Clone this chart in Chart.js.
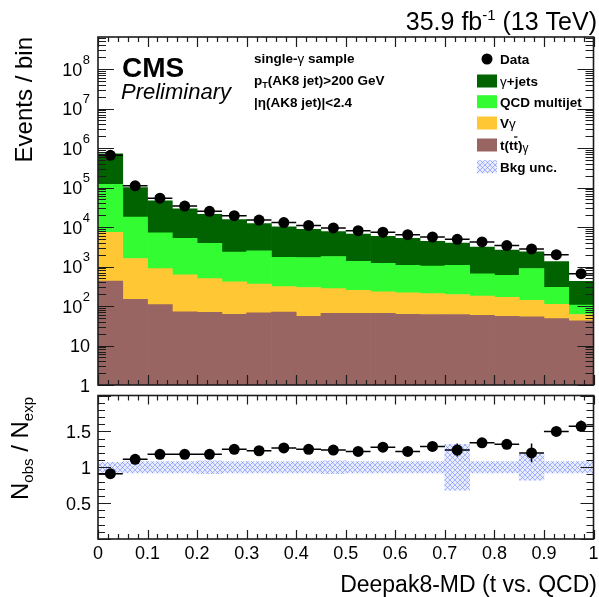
<!DOCTYPE html>
<html>
<head>
<meta charset="utf-8">
<title>Deepak8-MD (t vs. QCD)</title>
<script src="https://cdn.jsdelivr.net/npm/chart.js@4.4.1/dist/chart.umd.min.js"></script>
<style>
  html, body { margin: 0; padding: 0; background: #ffffff; }
  #wrap { position: relative; width: 599px; height: 597px; overflow: hidden; }
  canvas { position: absolute; left: 0; }
  #mainPad { top: 0; }
  #ratioPad { top: 390px; }
</style>
</head>
<body>
<div id="wrap">
  <canvas id="mainPad" width="599" height="400"></canvas>
  <canvas id="ratioPad" width="599" height="207"></canvas>
</div>
<script>
// ---- binning: 20 bins of width 0.05 on [0, 1] ----
const binCenters = [0.025, 0.075, 0.125, 0.175, 0.225, 0.275, 0.325, 0.375, 0.425, 0.475,
                    0.525, 0.575, 0.625, 0.675, 0.725, 0.775, 0.825, 0.875, 0.925, 0.975];
const binHalfWidth = 0.025;

// ---- expected events per bin, by process ----
const ttGamma     = [430, 148, 109, 71, 69, 62, 67, 70, 55, 65, 65, 65, 62, 61, 61, 58, 55, 53, 48, 42];
const vGamma      = [6970, 1450, 780, 550, 425, 345, 290, 240, 240, 210, 185, 165, 155, 145, 135, 120, 110, 87, 63, 19];
const qcdMultijet = [112600, 16400, 6300, 4580, 3400, 1900, 2150, 1390, 1400, 1520, 1100, 970, 850, 825, 875, 480, 435, 750, 185, 44];
const gammaJets   = [600000, 82000, 38800, 23800, 17100, 13200, 9700, 8500, 7100, 5900, 5250, 4600, 4130, 3320, 2880, 2440, 2000, 1460, 1040, 315];

// ---- observed events per bin ----
const dataEvents  = [655000, 111000, 54000, 34000, 25000, 19400, 15000, 13000, 11000, 9500,
                     8100, 7400, 6400, 5600, 4900, 4200, 3400, 2800, 2000, 660];

// ---- ratio panel ----
const dataOverBkg = [0.91, 1.11, 1.18, 1.18, 1.18, 1.25, 1.23, 1.27, 1.25, 1.24,
                     1.22, 1.28, 1.22, 1.29, 1.24, 1.34, 1.32, 1.20, 1.50, 1.57];
const ratioErr    = [0.02, 0.01, 0.01, 0.01, 0.01, 0.01, 0.01, 0.01, 0.01, 0.01,
                     0.01, 0.02, 0.02, 0.02, 0.09, 0.02, 0.02, 0.13, 0.04, 0.08];
const bkgRelUnc   = [0.07, 0.08, 0.08, 0.08, 0.09, 0.08, 0.08, 0.08, 0.08, 0.09,
                     0.08, 0.08, 0.08, 0.08, 0.32, 0.08, 0.08, 0.18, 0.08, 0.08];

// ---- tick labels ----
const xTickLabels     = ['0', '0.1', '0.2', '0.3', '0.4', '0.5', '0.6', '0.7', '0.8', '0.9', '1'];
const ratioTickLabels = ['0.5', '1', '1.5'];
const decadeExponents = [0, 1, 2, 3, 4, 5, 6, 7, 8];

// ---- styling ----
const FONT = '"Liberation Sans", Arial, Helvetica, sans-serif';
const font = (px, style = '') => `${style} ${px}px ${FONT}`.trim();
const COLORS = {
  gjets: '#006300',
  qcd:   '#33fc33',
  vg:    '#ffc733',
  ttg:   '#996563',
  frame: '#1c1c1c'
};

function makeHatch() {
  const c = document.createElement('canvas');
  c.width = 5; c.height = 5;
  const g = c.getContext('2d');
  g.fillStyle = 'rgba(190,200,255,0.35)';
  g.fillRect(0, 0, 5, 5);
  g.strokeStyle = 'rgba(110,130,250,0.55)';
  g.lineWidth = 1;
  g.beginPath();
  g.moveTo(0, 0); g.lineTo(5, 5);
  g.moveTo(5, 0); g.lineTo(0, 5);
  g.stroke();
  return g.createPattern(c, 'repeat');
}
const hatch = makeHatch();

// draw a sequence of text pieces with individual fonts / vertical shifts
function drawRuns(ctx, x, y, runs) {
  ctx.textAlign = 'left';
  ctx.textBaseline = 'alphabetic';
  for (const r of runs) {
    ctx.font = r.f;
    ctx.fillText(r.t, x, y + (r.dy || 0));
    const w = ctx.measureText(r.t).width;
    if (r.over) {
      ctx.save();
      ctx.lineWidth = 1.2;
      ctx.strokeStyle = ctx.fillStyle;
      ctx.beginPath();
      ctx.moveTo(x + 0.5, y - 13);
      ctx.lineTo(x + w - 0.5, y - 13);
      ctx.stroke();
      ctx.restore();
    }
    x += w;
  }
  return x;
}
function runsWidth(ctx, runs) {
  let w = 0;
  for (const r of runs) { ctx.font = r.f; w += ctx.measureText(r.t).width; }
  return w;
}

// inward-pointing tick marks on all four sides of a pad
function drawFrameAndTicks(chart, yTicks, len) {
  const { ctx, chartArea: a, scales } = chart;
  const xs = scales.x;
  const ys = scales.y;
  ctx.save();
  ctx.strokeStyle = COLORS.frame;
  ctx.lineWidth = 1.2;
  ctx.beginPath();
  for (let k = 0; k <= 50; k++) {
    const px = Math.round(xs.getPixelForValue(k / 50)) + 0.5;
    const l = (k % 5 === 0) ? len.xMajor : len.xMinor;
    ctx.moveTo(px, a.bottom); ctx.lineTo(px, a.bottom - l);
    ctx.moveTo(px, a.top);    ctx.lineTo(px, a.top + l);
  }
  for (const t of yTicks) {
    if (t.v < ys.min || t.v > ys.max) continue;
    const py = Math.round(ys.getPixelForValue(t.v)) + 0.5;
    const l = t.major ? len.yMajor : len.yMinor;
    ctx.moveTo(a.left, py);  ctx.lineTo(a.left + l, py);
    ctx.moveTo(a.right, py); ctx.lineTo(a.right - l, py);
  }
  ctx.stroke();
  ctx.lineWidth = 1.6;
  ctx.strokeRect(a.left, a.top, a.right - a.left, a.bottom - a.top);
  ctx.restore();
}

// horizontal (bin width) and vertical error bars on a scatter dataset
function drawErrorBars(chart, dsIndex, yErr) {
  const { ctx } = chart;
  const xs = chart.scales.x, ys = chart.scales.y;
  const meta = chart.getDatasetMeta(dsIndex);
  const values = chart.data.datasets[dsIndex].data;
  ctx.save();
  ctx.strokeStyle = '#000';
  ctx.lineWidth = 1.5;
  ctx.beginPath();
  meta.data.forEach((pt, i) => {
    const x0 = xs.getPixelForValue(binCenters[i] - binHalfWidth);
    const x1 = xs.getPixelForValue(binCenters[i] + binHalfWidth);
    ctx.moveTo(x0, pt.y); ctx.lineTo(x1, pt.y);
    if (yErr) {
      const v = values[i].y;
      ctx.moveTo(pt.x, ys.getPixelForValue(v - yErr[i]));
      ctx.lineTo(pt.x, ys.getPixelForValue(v + yErr[i]));
    }
  });
  ctx.stroke();
  ctx.restore();
}

// ---------------- main pad ----------------
const logTicks = [];
decadeExponents.forEach(e => {
  for (let m = 1; m <= 9; m++) logTicks.push({ v: m * Math.pow(10, e), major: m === 1 });
});

const mainDecor = {
  id: 'mainDecor',
  afterDatasetsDraw(chart) {
    drawErrorBars(chart, 0, null);
  },
  afterDraw(chart) {
    const { ctx } = chart;
    const ys = chart.scales.y;
    drawFrameAndTicks(chart, logTicks, { xMajor: 10, xMinor: 5, yMajor: 16, yMinor: 8 });

    ctx.save();
    ctx.fillStyle = '#000';
    // y tick labels: 1, 10, 10^n
    const xr = 90;
    decadeExponents.forEach(e => {
      const py = ys.getPixelForValue(Math.pow(10, e));
      ctx.textBaseline = 'alphabetic';
      if (e < 2) {
        ctx.font = font(18);
        ctx.textAlign = 'right';
        ctx.fillText(e === 0 ? '1' : '10', xr, py + 6.5);
      } else {
        ctx.font = font(13);
        ctx.textAlign = 'right';
        const expW = ctx.measureText(String(e)).width;
        ctx.fillText(String(e), xr, py - 5.5);
        ctx.font = font(18);
        ctx.fillText('10', xr - expW - 0.5, py + 6.5);
      }
    });

    // y axis title
    ctx.save();
    ctx.translate(32, 37);
    ctx.rotate(-Math.PI / 2);
    ctx.font = font(24);
    ctx.textAlign = 'right';
    ctx.fillText('Events / bin', 0, 0);
    ctx.restore();

    // luminosity label
    const lumi = [
      { t: '35.9 fb', f: font(25) },
      { t: '-1', f: font(15), dy: -10 },
      { t: ' (13 TeV)', f: font(25) }
    ];
    drawRuns(ctx, 597 - runsWidth(ctx, lumi), 30, lumi);

    // CMS label
    ctx.font = font(28, 'bold');
    ctx.textAlign = 'left';
    ctx.fillText('CMS', 122, 77);
    ctx.font = font(22, 'italic');
    ctx.fillText('Preliminary', 121, 98.5);

    // selection text
    const B = font(13.5, 'bold'), R = font(13.5);
    drawRuns(ctx, 254, 63, [{ t: 'single-', f: B }, { t: 'γ', f: R }, { t: ' sample', f: B }]);
    drawRuns(ctx, 254, 85, [{ t: 'p', f: B }, { t: 'T', f: font(9, 'bold'), dy: 3 }, { t: '(AK8 jet)>200 GeV', f: B }]);
    drawRuns(ctx, 254, 107, [{ t: '|η(AK8 jet)|<2.4', f: B }]);

    // legend
    const ds = chart.data.datasets;
    ctx.beginPath();
    ctx.arc(487, 59, 5.5, 0, Math.PI * 2);
    ctx.fill();
    drawRuns(ctx, 500, 63.5, [{ t: 'Data', f: B }]);
    const entries = [
      { c: ds[4].backgroundColor, y: 81,    runs: [{ t: 'γ', f: R }, { t: '+jets', f: B }] },
      { c: ds[3].backgroundColor, y: 101.7, runs: [{ t: 'QCD multijet', f: B }] },
      { c: ds[2].backgroundColor, y: 123,   runs: [{ t: 'V', f: B }, { t: 'γ', f: R }] },
      { c: ds[1].backgroundColor, y: 145,   runs: [{ t: 't(t', f: B }, { t: 't', f: B, over: true }, { t: ')', f: B }, { t: 'γ', f: font(12), dy: 1.5 }] },
      { c: hatch,                 y: 166.7, runs: [{ t: 'Bkg unc.', f: B }] }
    ];
    entries.forEach(en => {
      ctx.fillStyle = en.c;
      ctx.fillRect(477, en.y - 6.5, 20, 13);
      ctx.fillStyle = '#000';
      drawRuns(ctx, 500, en.y + 5, en.runs);
    });
    ctx.restore();
  }
};

const barDefaults = { categoryPercentage: 1.0, barPercentage: 1.0, borderWidth: 0, stack: 'bkg' };
const toXY = arr => arr.map((v, i) => ({ x: binCenters[i], y: v }));

new Chart(document.getElementById('mainPad'), {
  type: 'bar',
  data: {
    datasets: [
      { type: 'scatter', label: 'Data', data: toXY(dataEvents), stack: 'obs',
        pointRadius: 5.5, pointBackgroundColor: '#000', pointBorderWidth: 0, showLine: false },
      { label: 't(tt̄)γ',      data: toXY(ttGamma),     backgroundColor: COLORS.ttg,   ...barDefaults },
      { label: 'Vγ',           data: toXY(vGamma),      backgroundColor: COLORS.vg,    ...barDefaults },
      { label: 'QCD multijet', data: toXY(qcdMultijet), backgroundColor: COLORS.qcd,   ...barDefaults },
      { label: 'γ+jets',       data: toXY(gammaJets),   backgroundColor: COLORS.gjets, ...barDefaults }
    ]
  },
  options: {
    responsive: false,
    animation: false,
    events: [],
    layout: { padding: { left: 98, right: 2, top: 37, bottom: 15 } },
    plugins: { legend: { display: false }, tooltip: { enabled: false } },
    scales: {
      x: { type: 'linear', min: 0, max: 1, offset: false, stacked: true, display: false,
           ticks: { stepSize: 0.1 } },
      y: { type: 'logarithmic', min: 1, max: 6.5e8, stacked: true, display: false }
    }
  },
  plugins: [mainDecor]
});

// ---------------- ratio pad ----------------
const ratioTicks = [];
for (let k = 0; k <= 20; k++) ratioTicks.push({ v: k / 10, major: k % 5 === 0 });

const ratioDecor = {
  id: 'ratioDecor',
  afterDatasetsDraw(chart) {
    drawErrorBars(chart, 0, ratioErr);
  },
  afterDraw(chart) {
    const { ctx } = chart;
    const xs = chart.scales.x, ys = chart.scales.y;
    drawFrameAndTicks(chart, ratioTicks, { xMajor: 9, xMinor: 5, yMajor: 13, yMinor: 7 });

    ctx.save();
    ctx.fillStyle = '#000';
    ctx.font = font(18);
    ctx.textBaseline = 'alphabetic';
    ctx.textAlign = 'right';
    ratioTickLabels.forEach(s => {
      ctx.fillText(s, 91, ys.getPixelForValue(parseFloat(s)) + 6.5);
    });
    ctx.textAlign = 'center';
    xTickLabels.forEach(s => {
      ctx.fillText(s, xs.getPixelForValue(parseFloat(s)), 168.5);
    });

    // x axis title
    ctx.font = font(23);
    ctx.textAlign = 'right';
    ctx.fillText('Deepak8-MD (t vs. QCD)', 597, 202);

    // y axis title
    ctx.save();
    ctx.translate(28, 7);
    ctx.rotate(-Math.PI / 2);
    const title = [
      { t: 'N', f: font(24) },
      { t: 'obs', f: font(15), dy: 5 },
      { t: ' / ', f: font(24) },
      { t: 'N', f: font(24) },
      { t: 'exp', f: font(15), dy: 5 }
    ];
    drawRuns(ctx, -runsWidth(ctx, title), 0, title);
    ctx.restore();
    ctx.restore();
  }
};

new Chart(document.getElementById('ratioPad'), {
  type: 'bar',
  data: {
    datasets: [
      { type: 'scatter', label: 'Data / Bkg', data: toXY(dataOverBkg),
        pointRadius: 5.5, pointBackgroundColor: '#000', pointBorderWidth: 0, showLine: false },
      { label: 'Bkg unc.', data: bkgRelUnc.map((u, i) => ({ x: binCenters[i], y: [1 - u, 1 + u] })),
        backgroundColor: hatch, borderWidth: 0, categoryPercentage: 1.0, barPercentage: 1.0 }
    ]
  },
  options: {
    responsive: false,
    animation: false,
    events: [],
    layout: { padding: { left: 98, right: 2, top: 5, bottom: 58 } },
    plugins: { legend: { display: false }, tooltip: { enabled: false } },
    scales: {
      x: { type: 'linear', min: 0, max: 1, offset: false, display: false, ticks: { stepSize: 0.1 } },
      y: { type: 'linear', min: 0, max: 2, display: false }
    }
  },
  plugins: [ratioDecor]
});
</script>
</body>
</html>
